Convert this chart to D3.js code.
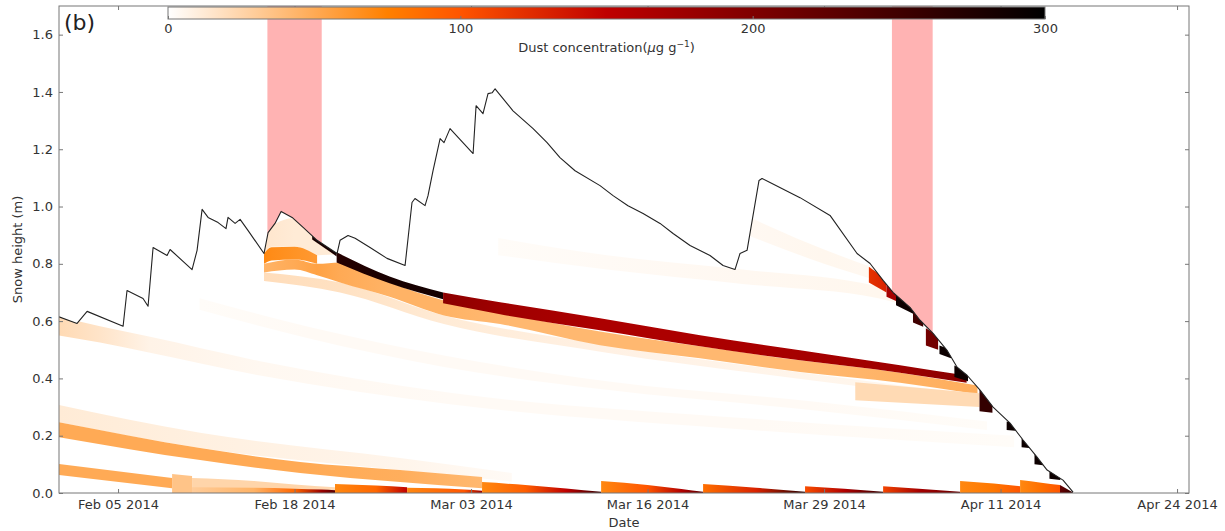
<!DOCTYPE html>
<html><head><meta charset="utf-8">
<script src="https://cdn.jsdelivr.net/npm/d3@7"></script>
<style>
body{margin:0;background:#fff;}
svg{display:block;font-family:"DejaVu Sans",sans-serif;}
</style>
</head><body>
<svg id="chart" width="1225" height="531"></svg>
<script>
// ---------- DATA (days counted from 2014-02-01 00:00) ----------
const baseDateStr = "2014-02-01";
const xDomainDays = [-0.35, 82.88];
const yDomain = [0, 1.7];
const yTicks = [0, 0.2, 0.4, 0.6, 0.8, 1.0, 1.2, 1.4, 1.6];
const xTickDates = ["2014-02-05","2014-02-18","2014-03-03","2014-03-16","2014-03-29","2014-04-11","2014-04-24"];
const colorTicks = [0, 100, 200, 300];
const colorDomain = [0, 300];
const dustEvents = [["2014-02-16","2014-02-20"],["2014-04-03","2014-04-06"]];

const snowDays = [-0.35,0.98,1.72,4.37,4.66,5.84,6.21,6.58,7.61,7.83,9.45,9.82,10.19,10.63,11.37,11.95,12.10,12.62,12.99,13.58,14.75,15.05,15.56,16.01,16.82,17.63,18.66,20.13,20.35,20.94,21.46,22.56,23.81,25.14,25.65,25.87,26.61,26.83,27.20,27.72,28.01,28.45,30.15,30.37,30.88,31.25,31.55,31.77,33.09,34.57,35.60,36.55,37.66,39.50,40.46,41.56,42.67,43.92,44.88,46.13,47.60,48.56,49.44,49.81,50.33,51.21,51.43,52.02,54.23,56.44,58.43,59.39,60.35,61.08,62.33,63.07,64.03,65.06,65.80,66.53,67.49,68.45,69.70,70.66,71.69,72.43,73.60,74.34];
const snowHeights = [0.615,0.592,0.634,0.582,0.707,0.679,0.652,0.857,0.829,0.850,0.780,0.847,0.990,0.962,0.944,0.923,0.962,0.941,0.955,0.916,0.836,0.909,0.941,0.983,0.962,0.927,0.882,0.836,0.882,0.899,0.889,0.857,0.819,0.794,1.014,1.028,1.003,1.038,1.125,1.237,1.223,1.272,1.185,1.352,1.324,1.394,1.397,1.411,1.334,1.272,1.223,1.171,1.125,1.073,1.038,1.003,0.976,0.941,0.906,0.864,0.829,0.794,0.780,0.836,0.847,1.091,1.098,1.084,1.031,0.969,0.836,0.801,0.742,0.700,0.648,0.603,0.557,0.498,0.439,0.411,0.359,0.300,0.244,0.185,0.125,0.080,0.045,0.003];

// layer knots: [day, bottom height (m), top height (m), dust concentration]
const faintLayers = [
  [[-0.35,0.55,0.615,22],[2.67,0.525,0.582,16],[6.36,0.49,0.545,7],[14.46,0.41,0.46,4],[28.45,0.31,0.35,3],[50.55,0.22,0.26,3],[70,0.16,0.2,2]],
  [[-0.35,0.247,0.307,12],[10.04,0.157,0.21,9],[24.77,0.08,0.122,6],[33,0.04,0.07,3]],
  [[10,0.64,0.68,2],[18,0.54,0.58,3],[28,0.44,0.48,3],[40,0.36,0.39,3],[55,0.29,0.32,3],[68,0.22,0.25,2]],
  [[32,0.83,0.89,2],[40,0.78,0.83,3],[50,0.73,0.78,4],[60,0.68,0.72,5],[63,0.64,0.67,4]],
  [[47,0.96,1.05,3],[52,0.87,0.93,4],[56,0.80,0.85,5],[60,0.74,0.78,4]]
];
const dustBands = [
  [[14.75,0.836,0.85,14],[15.3,0.86,0.93,14],[17,0.86,0.96,12],[18.7,0.83,0.9,12],[20.2,0.833,0.85,12]],
  [[14.75,0.74,0.77,20],[20.35,0.70,0.735,18],[28,0.59,0.62,12],[40,0.49,0.516,8],[54,0.40,0.422,6],[66,0.33,0.35,5]],
  [[14.75,0.77,0.80,45],[17,0.78,0.815,50],[18.66,0.76,0.80,55],[20.35,0.735,0.805,50],[24,0.685,0.735,45],[28,0.62,0.672,45],[32.14,0.59,0.63,42],[39.5,0.516,0.564,42],[46.87,0.47,0.512,42],[54.23,0.422,0.463,42],[61.6,0.385,0.42,45],[67.3,0.345,0.375,48]],
  [[14.75,0.80,0.836,70],[15.3,0.812,0.858,68],[17,0.815,0.86,64],[18.66,0.80,0.83,60]],
  [[18.3,0.885,0.912,280],[20.1,0.826,0.846,280]],
  [[20.1,0.805,0.84,270],[24,0.732,0.756,280],[27.94,0.676,0.70,285]],
  [[27.94,0.662,0.70,190],[32.14,0.624,0.666,175],[39.5,0.568,0.61,165],[46.87,0.512,0.551,165],[54.23,0.463,0.498,170],[61.6,0.42,0.446,175],[66.5,0.385,0.41,195]],
  [[58.3,0.324,0.387,22],[67.45,0.30,0.348,22]]
];
const basalLayers = [
  [[-0.35,0.063,0.101,50],[7.98,0.017,0.052,50]],
  [[-0.35,0.195,0.247,50],[10.04,0.115,0.157,50],[17.41,0.07,0.108,50],[24.77,0.038,0.08,48],[30.81,0.017,0.056,42]],
  [[7.98,0,0.066,35],[9.45,0,0.059,35]],
  [[9.45,0,0.052,25],[14,0,0.042,25],[17,0,0.03,25],[19.98,0,0.02,22]],
  [[9.45,0,0.02,30],[14,0,0.018,45],[17,0,0.015,90],[19,0,0.012,180],[19.98,0,0.01,230]],
  [[19.98,0,0.031,70],[23,0,0.026,90],[25.29,0,0.02,150]],
  [[25.29,0,0.018,70],[29.5,0,0.012,100],[30.81,0,0.008,180]],
  [[30.81,0,0.038,70],[34,0,0.028,95],[37,0,0.016,150],[39.58,0,0.004,260]],
  [[39.58,0,0.042,70],[43,0,0.028,100],[45.5,0,0.014,160],[47.09,0,0.004,230]],
  [[47.09,0,0.031,85],[51,0,0.018,130],[54.6,0,0.004,270]],
  [[54.6,0,0.024,105],[57.5,0,0.015,160],[60.35,0,0.004,260]],
  [[60.35,0,0.024,110],[63,0,0.015,170],[66.02,0,0.004,220]],
  [[66.02,0,0.042,70],[68.5,0,0.033,80],[70.44,0,0.024,100]],
  [[70.44,0,0.045,70],[72,0,0.036,85],[73.38,0,0.028,100]],
  [[73.38,0,0.028,220],[74.34,0,0.002,260]]
];
const surfaceCrusts = [
  [[59.3,0.735,0.79,120],[60.6,0.70,0.745,130]],
  [[60.6,0.685,0.725,170],[61.3,0.67,0.705,170]],
  [[61.3,0.655,0.70,290],[62.6,0.625,0.66,290]],
  [[62.55,0.595,0.635,250],[63.3,0.58,0.61,250]],
  [[63.5,0.515,0.575,210],[64.4,0.50,0.55,210]],
  [[64.5,0.485,0.515,290],[65.35,0.47,0.50,290]],
  [[65.6,0.405,0.445,290],[66.6,0.39,0.42,290]],
  [[67.45,0.285,0.36,260],[68.4,0.28,0.335,260]],
  [[69.45,0.22,0.25,290],[70.5,0.215,0.24,290]],
  [[70.55,0.16,0.19,290],[71.45,0.155,0.18,290]],
  [[71.5,0.10,0.138,290],[72.45,0.095,0.123,290]],
  [[72.6,0.05,0.08,290],[73.4,0.045,0.07,290]]
];

// ---------- CHART ----------
const M = {left: 59, right: 1189, top: 6, bottom: 493};
const parse = d3.timeParse("%Y-%m-%d");
const base = parse(baseDateStr);
const toDate = d => new Date(base.getTime() + d * 864e5);

const x = d3.scaleTime().domain(xDomainDays.map(toDate)).range([M.left, M.right]);
const y = d3.scaleLinear().domain(yDomain).range([M.bottom, M.top]);
// gist_heat_r colormap
const color = d3.scaleLinear()
  .domain([0, 75, 100, 150, 300])
  .range(["#ffffff", "#ff8000", "#ff5500", "#bf0000", "#000000"])
  .clamp(true);

const svg = d3.select("#chart");
const defs = svg.append("defs");

defs.append("clipPath").attr("id", "plotClip")
  .append("rect").attr("x", M.left).attr("y", M.top)
  .attr("width", M.right - M.left).attr("height", M.bottom - M.top);

const snowData = snowDays.map((d, i) => [d, snowHeights[i]]);
const snowArea = d3.area()
  .x(d => x(toDate(d[0]))).y0(y(0)).y1(d => y(d[1]));
defs.append("clipPath").attr("id", "snowClip")
  .append("path").attr("d", snowArea(snowData));

const plot = svg.append("g").attr("clip-path", "url(#plotClip)");

// dust events
plot.selectAll("rect.event").data(dustEvents).join("rect")
  .attr("class", "event")
  .attr("x", d => x(parse(d[0])))
  .attr("width", d => x(parse(d[1])) - x(parse(d[0])))
  .attr("y", M.top).attr("height", M.bottom - M.top)
  .attr("fill", "#ffb3b3");

// snowpack background
plot.append("path").attr("d", snowArea(snowData)).attr("fill", "#ffffff");

const layerG = plot.append("g").attr("clip-path", "url(#snowClip)");
const layerArea = d3.area()
  .x(k => x(toDate(k[0]))).y0(k => y(k[1])).y1(k => y(k[2]))
  .curve(d3.curveMonotoneX);
function drawLayers(layers, prefix) {
  layers.forEach((knots, i) => {
    const id = prefix + i;
    const x0 = x(toDate(knots[0][0]));
    const x1 = x(toDate(knots[knots.length - 1][0]));
    const grad = defs.append("linearGradient").attr("id", id)
      .attr("gradientUnits", "userSpaceOnUse")
      .attr("x1", x0).attr("x2", x1).attr("y1", 0).attr("y2", 0);
    knots.forEach(k => grad.append("stop")
      .attr("offset", (x(toDate(k[0])) - x0) / (x1 - x0))
      .attr("stop-color", color(k[3])));
    layerG.append("path").attr("d", layerArea(knots)).attr("fill", `url(#${id})`);
  });
}
drawLayers(faintLayers, "gf");
drawLayers(dustBands, "gd");
drawLayers(basalLayers, "gb");
drawLayers(surfaceCrusts, "gc");

// snow height line
plot.append("path")
  .attr("d", d3.line().x(d => x(toDate(d[0]))).y(d => y(d[1]))(snowData))
  .attr("fill", "none").attr("stroke", "#222").attr("stroke-width", 1.1)
  .attr("stroke-linejoin", "round");

// axes
const txtColor = "#333";
const axisColor = "#777";
const xTicks = xTickDates.map(parse);
const gx = svg.append("g").attr("transform", `translate(0,${M.bottom})`)
  .call(d3.axisBottom(x).tickValues(xTicks).tickFormat(d3.timeFormat("%b %d %Y"))
    .tickSizeInner(-4).tickSizeOuter(0).tickPadding(7));
const gxt = svg.append("g").attr("transform", `translate(0,${M.top})`)
  .call(d3.axisTop(x).tickValues(xTicks).tickFormat("").tickSizeInner(-4).tickSizeOuter(0));
const gy = svg.append("g").attr("transform", `translate(${M.left},0)`)
  .call(d3.axisLeft(y).tickValues(yTicks).tickFormat(d3.format(".1f"))
    .tickSizeInner(-4).tickSizeOuter(0).tickPadding(6));
const gyr = svg.append("g").attr("transform", `translate(${M.right},0)`)
  .call(d3.axisRight(y).tickValues(yTicks).tickFormat("").tickSizeInner(-4).tickSizeOuter(0));
[gx, gxt, gy, gyr].forEach(g => {
  g.select(".domain").remove();
  g.selectAll(".tick line").attr("stroke", axisColor);
  g.selectAll("text").attr("fill", txtColor).attr("font-size", 13)
    .attr("font-family", "DejaVu Sans, sans-serif");
});

// frame
svg.append("rect").attr("x", M.left).attr("y", M.top)
  .attr("width", M.right - M.left).attr("height", M.bottom - M.top)
  .attr("fill", "none").attr("stroke", axisColor).attr("stroke-width", 1);

// labels
svg.append("text").attr("x", (M.left + M.right) / 2).attr("y", 527)
  .attr("text-anchor", "middle").attr("font-size", 13).attr("fill", txtColor).text("Date");
svg.append("text").attr("transform", `translate(22,${(M.top + M.bottom) / 2}) rotate(-90)`)
  .attr("text-anchor", "middle").attr("font-size", 13).attr("fill", txtColor).text("Snow height (m)");
svg.append("text").attr("x", 64).attr("y", 30).attr("font-size", 22).attr("fill", "#222").text("(b)");

// colorbar
const cb = {x0: 168, x1: 1045, y0: 7, y1: 19};
const cx = d3.scaleLinear().domain(colorDomain).range([cb.x0, cb.x1]);
const cbGrad = defs.append("linearGradient").attr("id", "cbGrad")
  .attr("gradientUnits", "userSpaceOnUse")
  .attr("x1", cb.x0).attr("x2", cb.x1).attr("y1", 0).attr("y2", 0);
color.domain().forEach(v => cbGrad.append("stop")
  .attr("offset", (cx(v) - cb.x0) / (cb.x1 - cb.x0)).attr("stop-color", color(v)));
svg.append("rect").attr("x", cb.x0).attr("y", cb.y0)
  .attr("width", cb.x1 - cb.x0).attr("height", cb.y1 - cb.y0)
  .attr("fill", "url(#cbGrad)").attr("stroke", axisColor).attr("stroke-width", 1);
const gcb = svg.append("g").attr("transform", `translate(0,${cb.y1})`)
  .call(d3.axisBottom(cx).tickValues(colorTicks).tickFormat(d3.format("d"))
    .tickSizeInner(-3).tickSizeOuter(0).tickPadding(5));
gcb.select(".domain").remove();
gcb.selectAll(".tick line").attr("stroke", axisColor);
gcb.selectAll("text").attr("fill", txtColor).attr("font-size", 13)
  .attr("font-family", "DejaVu Sans, sans-serif");

const cbLabel = svg.append("text").attr("x", (cb.x0 + cb.x1) / 2).attr("y", 52)
  .attr("text-anchor", "middle").attr("font-size", 13).attr("fill", txtColor);
cbLabel.append("tspan").text("Dust concentration(");
cbLabel.append("tspan").attr("font-style", "italic").text("μ");
cbLabel.append("tspan").text("g g");
cbLabel.append("tspan").attr("font-size", 9).attr("dy", -5).text("−1");
cbLabel.append("tspan").attr("dy", 5).text(")");
</script>
</body></html>
